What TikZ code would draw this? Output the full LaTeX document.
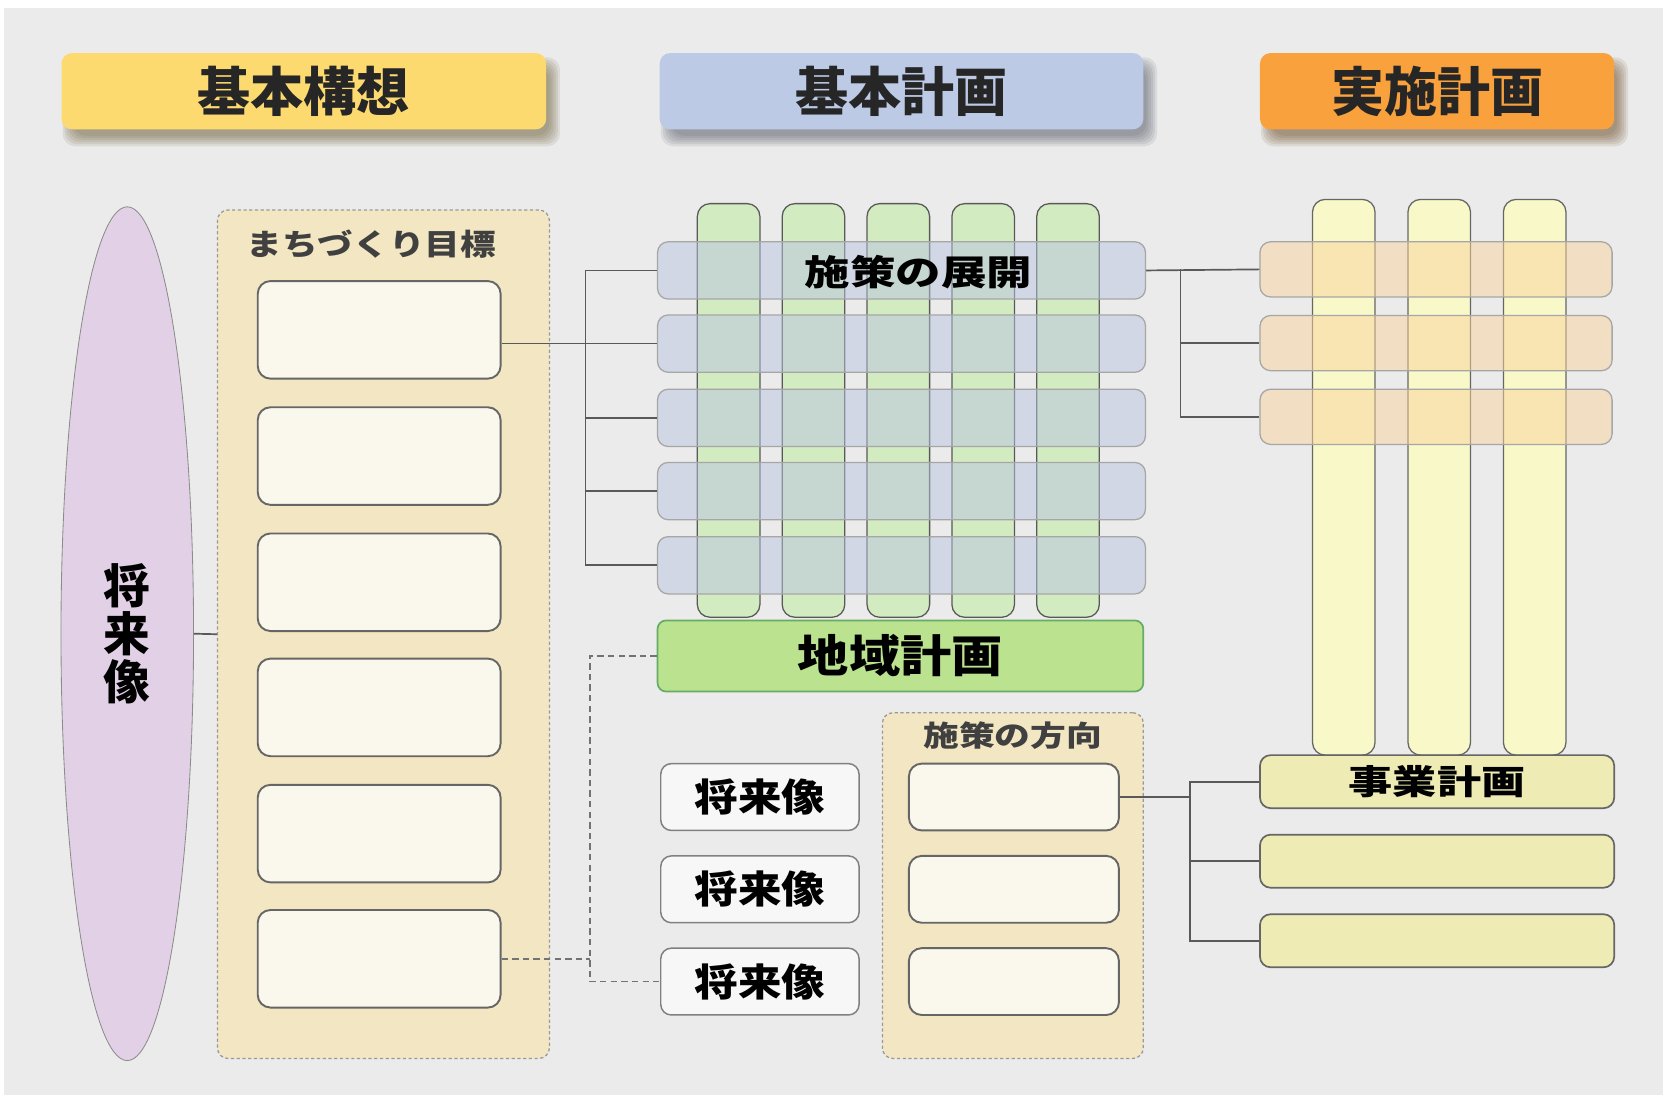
\documentclass[tikz,border=0pt]{standalone}
\usepackage{fontspec}
\newfontfamily\jp{Noto Sans CJK JP}
\usepackage{xcolor}
\usepackage{tikz}
\usetikzlibrary{calc}
\usetikzlibrary{shapes.geometric}
\usetikzlibrary{positioning}

\definecolor{bgrey}{HTML}{EBEBEB}
\definecolor{tyellow}{HTML}{FDDA70}
\definecolor{tblue}{HTML}{BCCAE6}
\definecolor{torange}{HTML}{F9A13D}
\definecolor{lilac}{HTML}{E2D1E6}
\definecolor{sand}{HTML}{F3E6C2}
\definecolor{cream}{HTML}{FAF8EC}
\definecolor{rowblue}{HTML}{B8C4E0}
\definecolor{colgreen}{HTML}{D3EBC0}
\definecolor{areagreen}{HTML}{BAE28F}
\definecolor{colyellow}{HTML}{F8F8C8}
\definecolor{roworange}{HTML}{F9D39D}
\definecolor{bizyellow}{HTML}{EEEBB4}

\newcommand{\widetxt}[2]{\scalebox{#1}[1]{#2}}

\begin{document}
\begin{tikzpicture}[x=0.5pt, y=-0.5pt,
    title/.style={rounded corners=5pt, minimum height=36pt, inner sep=0pt,
      font=\jp\bfseries\fontsize{25}{25}\selectfont, text=black!85},
    frame/.style={rounded corners=5pt, fill=sand, draw=black!40, dash pattern=on 1.5pt off 1.2pt, line width=0.6pt},
    framelabel/.style={font=\jp\bfseries\fontsize{14}{14}\selectfont, text=black!75},
    goal/.style={rounded corners=6pt, fill=cream, draw=black!60, line width=0.9pt},
    gcol/.style={rounded corners=6pt, fill=colgreen, draw=black!65, line width=0.6pt, minimum width=29.5pt, minimum height=195pt},
    prow/.style={rounded corners=5pt, fill=rowblue, fill opacity=0.5, draw=black!35, line width=0.6pt, minimum width=230pt, minimum height=27pt},
    ycol/.style={rounded corners=6pt, fill=colyellow, draw=black!60, line width=0.6pt, minimum width=29.5pt, minimum height=262pt},
    orow/.style={rounded corners=5pt, fill=roworange, fill opacity=0.5, draw=black!35, line width=0.6pt, minimum width=166pt, minimum height=26pt},
    biz/.style={rounded corners=5pt, fill=bizyellow, draw=black!60, line width=0.8pt, minimum width=167pt, minimum height=25pt},
    futbox/.style={rounded corners=5pt, fill=white!97!black, draw=black!50, line width=0.7pt, minimum width=93.5pt, minimum height=31.5pt,
      font=\jp\bfseries\fontsize{18}{18}\selectfont},
    link/.style={draw=black!65, line width=0.8pt},
    dlink/.style={draw=black!55, line width=0.8pt, dash pattern=on 3pt off 2pt}]

  \fill[white] (0,0) rectangle (1568,1032);
  \fill[bgrey] (4,8) rectangle (1568,1032);
  \useasboundingbox (0,0) rectangle (1568,1032);

  % soft shadows under the titles
  \foreach \cx/\w/\col in {286.5/457/tyellow, 850/456/tblue, 1355/334/torange}
    \foreach \k in {0,...,5}
      \fill[\col!40!black, opacity=0.11, rounded corners=6pt]
        (\cx-\w/2+11-2*\k, 64-2*\k) rectangle (\cx+\w/2+3+2*\k, 128+2*\k);

  % titles
  \node[title, fill=tyellow, minimum width=228.5pt] (plan1) at (286.5,86) {基本構想};
  \node[title, fill=tblue, minimum width=228pt] (plan2) at (850,86) {基本計画};
  \node[title, fill=torange, minimum width=167pt] (plan3) at (1355,86) {実施計画};

  % vision and goals
  \node[ellipse, draw=black!45, fill=lilac, minimum width=62.5pt, minimum height=402.5pt, inner sep=0pt,
    align=center, font=\jp\bfseries\fontsize{22}{22.5}\selectfont] (vision) at (120,597.5) {将\\来\\像};
  \node[frame, minimum width=156.5pt, minimum height=400pt] (goals) at (361.5,598) {};
  \node[framelabel] (goalstitle) at (350,230) {\widetxt{1.2}{まちづくり目標}};
  \foreach \i/\y in {1/311,2/430,3/549,4/667,5/786,6/904}
    \node[goal, minimum width=114.5pt, minimum height=46pt] (g\i) at (357.5,\y) {};

  % basic plan
  \foreach \i in {1,...,5}
    \node[gcol] (c\i) at (607+80*\i,387) {};
  \foreach \i/\y in {1/255,2/324,3/394,4/463,5/533}
    \node[prow] (p\i) at (850,\y) {};
  \node[font=\jp\bfseries\fontsize{16.5}{16.5}\selectfont] (devtitle) at (866,257) {\widetxt{1.3}{施策の展開}};
  \node[rounded corners=4pt, fill=areagreen, draw=black!55!green!60, line width=0.8pt, minimum width=229pt, minimum height=33.5pt,
    font=\jp\bfseries\fontsize{21}{21}\selectfont] (area) at (849,618.5) {\widetxt{1.15}{地域計画}};
  \foreach \i/\y in {1/751.5,2/838.5,3/925.5}
    \node[futbox] (f\i) at (716.5,\y) {\widetxt{1.14}{将来像}};
  \node[frame, minimum width=123pt, minimum height=163pt] (dirs) at (955,835) {};
  \node[framelabel, font=\jp\bfseries\fontsize{13.5}{13.5}\selectfont] (dirstitle) at (955,694) {\widetxt{1.25}{施策の方向}};
  \foreach \i/\y in {1/751.5,2/838.5,3/925.5}
    \node[goal, minimum width=99pt, minimum height=31.5pt] (d\i) at (956,\y) {};

  % action plan
  \foreach \i in {1,...,3}
    \node[ycol] (y\i) at (1177+90*\i,450) {};
  \foreach \i/\y in {1/254,2/323.5,3/393}
    \node[orow] (o\i) at (1354,\y) {};
  \node[biz, font=\jp\bfseries\fontsize{16}{16}\selectfont] (j1) at (1355,737) {\widetxt{1.3}{事業計画}};
  \node[biz] (j2) at (1355,812) {};
  \node[biz] (j3) at (1355,887) {};

  % connectors
  \coordinate (b1) at (552,255);
  \coordinate (b2) at (1122,0);
  \coordinate (b3) at (1113,0);
  \coordinate (dv) at (556,0);
  \draw[link] (vision.east) -- (goals.west);
  \draw[link] (p2.west -| g1.east) -- (p2.west);
  \draw[link] (p1.west) -- (b1) |- (p5.west);
  \draw[link] (p3.west) -- (p3.west -| b1);
  \draw[link] (p4.west) -- (p4.west -| b1);
  \draw[link] (p1.east) -- (o1.west);
  \draw[link] (o1.west -| b3) |- (o3.west);
  \draw[link] (o2.west) -- (o2.west -| b3);
  \draw[link] (d1.east) -- (d1.east -| b2);
  \draw[link] (j1.west) -- (j1.west -| b2) |- (j3.west);
  \draw[link] (j2.west) -- (j2.west -| b2);
  \draw[dlink] (g6.east) -- (g6.east -| dv);
  \draw[dlink] (area.west) -| (dv |- f3.west) -- (f3.west);
\end{tikzpicture}
\end{document}
